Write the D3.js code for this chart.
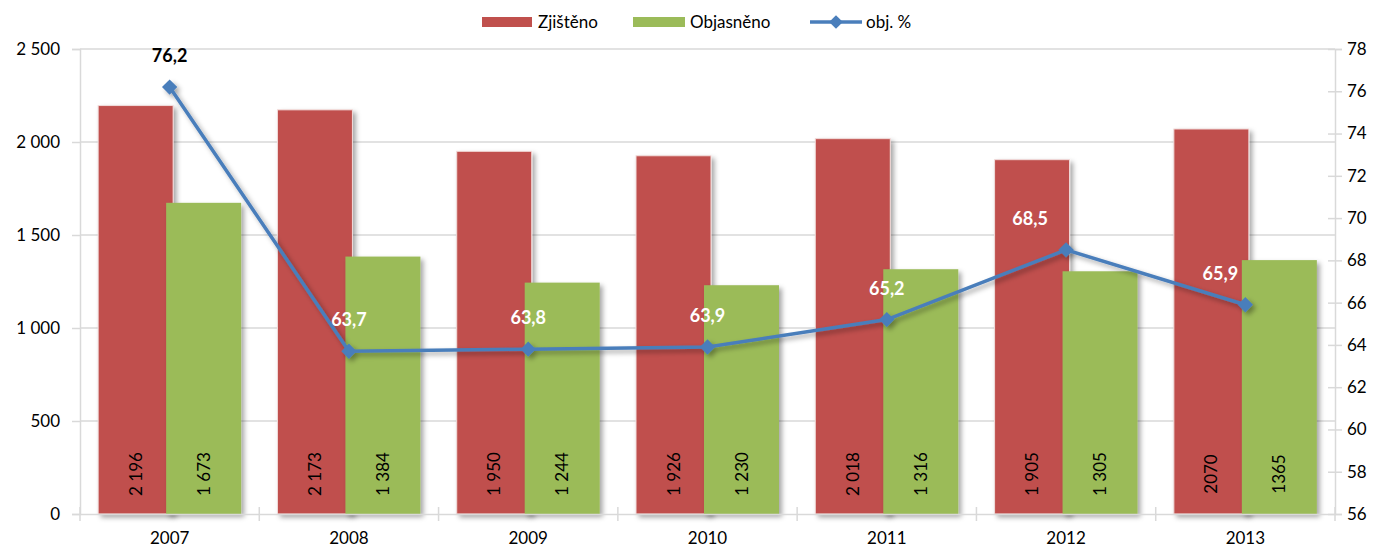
<!DOCTYPE html>
<html>
<head>
<meta charset="utf-8">
<script src="https://cdn.jsdelivr.net/npm/d3@7"></script>
<style>
  body { margin: 0; background: #fff; }
  text { font-family: Lato, "Open Sans", sans-serif; }
</style>
</head>
<body>
<div id="chart"></div>
<script>
var years = ["2007", "2008", "2009", "2010", "2011", "2012", "2013"];
var zjisteno = [2196, 2173, 1950, 1926, 2018, 1905, 2070];
var objasneno = [1673, 1384, 1244, 1230, 1316, 1305, 1365];
var objPct = [76.2, 63.7, 63.8, 63.9, 65.2, 68.5, 65.9];
var zjistenoLabels = ["2 196", "2 173", "1 950", "1 926", "2 018", "1 905", "2070"];
var objasnenoLabels = ["1 673", "1 384", "1 244", "1 230", "1 316", "1 305", "1365"];
var pctLabels = ["76,2", "63,7", "63,8", "63,9", "65,2", "68,5", "65,9"];
var leftTicks = [0, 500, 1000, 1500, 2000, 2500];
var rightTicks = [56, 58, 60, 62, 64, 66, 68, 70, 72, 74, 76, 78];

var svgWidth = 1381;
var svgHeight = 549;

var margin = { top: 49, right: 46, bottom: 35, left: 80 };
var width = svgWidth - margin.left - margin.right;
var height = svgHeight - margin.top - margin.bottom;

var red = "#c0504d";
var green = "#9bbb59";
var blue = "#4a7ebb";
var grid = "#d9d9d9";

// the last two percent labels were dragged left in the original
var labelShift = [0, 0, 0, 0, 0, -36, -25];

var svg = d3.select("#chart")
  .append("svg")
  .attr("width", svgWidth)
  .attr("height", svgHeight);

// drop shadow like the office chart
var defs = svg.append("defs");
var shadow = defs.append("filter")
  .attr("id", "shadow")
  .attr("x", "-20%").attr("y", "-20%")
  .attr("width", "150%").attr("height", "150%");
shadow.append("feDropShadow")
  .attr("dx", 3).attr("dy", 3)
  .attr("stdDeviation", 2.5)
  .attr("flood-color", "#000")
  .attr("flood-opacity", 0.35);

var chartGroup = svg.append("g")
  .attr("transform", `translate(${margin.left}, ${margin.top})`);

var xScale = d3.scaleBand()
  .domain(years)
  .range([0, width]);

var yLeft = d3.scaleLinear()
  .domain([0, 2500])
  .range([height, 0]);

var yRight = d3.scaleLinear()
  .domain([56, 78])
  .range([height, 0]);

var barWidth = 75;
var overlap = 7;

// gridlines
chartGroup.append("g")
  .selectAll("line")
  .data(leftTicks.slice(1))
  .enter()
  .append("line")
  .attr("x1", 0)
  .attr("x2", width)
  .attr("y1", d => yLeft(d))
  .attr("y2", d => yLeft(d))
  .attr("stroke", grid)
  .attr("stroke-width", 1.5);

// left axis
var leftAxis = d3.axisLeft(yLeft)
  .tickValues(leftTicks)
  .tickSize(8)
  .tickPadding(12)
  .tickFormat(d => d3.format(",")(d).replace(/,/g, " "));

var yAxisL = chartGroup.append("g").call(leftAxis);
yAxisL.select(".domain").attr("stroke", grid).attr("stroke-width", 1.5);
yAxisL.selectAll(".tick line").attr("stroke", grid).attr("stroke-width", 1.5).attr("x2", -8);
yAxisL.selectAll(".tick text").style("font-size", "17px").attr("fill", "#000");

// right axis
var rightAxis = d3.axisRight(yRight)
  .tickValues(rightTicks)
  .tickSize(7)
  .tickPadding(5);

var yAxisR = chartGroup.append("g")
  .attr("transform", `translate(${width}, 0)`)
  .call(rightAxis);
yAxisR.select(".domain").attr("stroke", grid).attr("stroke-width", 1.5);
yAxisR.selectAll(".tick line").attr("stroke", grid).attr("stroke-width", 1.5).attr("x1", -7);
yAxisR.selectAll(".tick text").style("font-size", "17px").attr("fill", "#000");

// bars
var barGroups = chartGroup.append("g")
  .selectAll("g")
  .data(years)
  .enter()
  .append("g")
  .attr("transform", d => `translate(${xScale(d) + xScale.bandwidth() / 2}, 0)`);

barGroups.append("rect")
  .attr("x", -barWidth + overlap / 2)
  .attr("y", (d, i) => yLeft(zjisteno[i]))
  .attr("width", barWidth)
  .attr("height", (d, i) => height - yLeft(zjisteno[i]))
  .attr("fill", red)
  .attr("stroke", "#f2dcdb")
  .attr("stroke-width", 1)
  .attr("filter", "url(#shadow)");

barGroups.append("rect")
  .attr("x", -overlap / 2)
  .attr("y", (d, i) => yLeft(objasneno[i]))
  .attr("width", barWidth)
  .attr("height", (d, i) => height - yLeft(objasneno[i]))
  .attr("fill", green)
  .attr("filter", "url(#shadow)");

// bar value labels, rotated
barGroups.append("text")
  .attr("transform", `translate(${-barWidth / 2 + overlap / 2 + 6}, ${height - 40}) rotate(-90)`)
  .attr("text-anchor", "middle")
  .style("font-size", "17px")
  .text((d, i) => zjistenoLabels[i]);

barGroups.append("text")
  .attr("transform", `translate(${barWidth / 2 - overlap / 2 + 6}, ${height - 40}) rotate(-90)`)
  .attr("text-anchor", "middle")
  .style("font-size", "17px")
  .text((d, i) => objasnenoLabels[i]);

// x axis
var bottomAxis = d3.axisBottom(xScale).tickSize(0).tickPadding(18);
var xAxis = chartGroup.append("g")
  .attr("transform", `translate(0, ${height})`)
  .call(bottomAxis);
xAxis.select(".domain").attr("stroke", grid).attr("stroke-width", 1.5);
xAxis.selectAll(".tick text").style("font-size", "17px").attr("fill", "#000");

// tick marks between categories
xAxis.append("g")
  .selectAll("line")
  .data(years.concat(["end"]))
  .enter()
  .append("line")
  .attr("x1", (d, i) => i * xScale.bandwidth())
  .attr("x2", (d, i) => i * xScale.bandwidth())
  .attr("y1", -7)
  .attr("y2", 7)
  .attr("stroke", grid)
  .attr("stroke-width", 1.5);

// line series
var line = d3.line()
  .x((d, i) => xScale(years[i]) + xScale.bandwidth() / 2)
  .y(d => yRight(d));

var lineGroup = chartGroup.append("g").attr("filter", "url(#shadow)");

lineGroup.append("path")
  .datum(objPct)
  .attr("d", line)
  .attr("fill", "none")
  .attr("stroke", blue)
  .attr("stroke-width", 3.5);

lineGroup.selectAll("path.marker")
  .data(objPct)
  .enter()
  .append("path")
  .attr("class", "marker")
  .attr("d", d3.symbol().type(d3.symbolDiamond2).size(150))
  .attr("transform", (d, i) => `translate(${xScale(years[i]) + xScale.bandwidth() / 2}, ${yRight(d)})`)
  .attr("fill", blue);

// line labels
chartGroup.append("g")
  .selectAll("text")
  .data(objPct)
  .enter()
  .append("text")
  .attr("x", (d, i) => xScale(years[i]) + xScale.bandwidth() / 2 + labelShift[i])
  .attr("y", d => yRight(d) - 25)
  .attr("text-anchor", "middle")
  .style("font-size", "18px")
  .style("font-weight", "bold")
  .attr("fill", (d, i) => i === 0 ? "#000" : "#fff")
  .text((d, i) => pctLabels[i]);

// legend
var legend = svg.append("g").attr("transform", "translate(482, 22)");

legend.append("rect")
  .attr("x", 0).attr("y", -5)
  .attr("width", 50).attr("height", 10)
  .attr("fill", red);
legend.append("text")
  .attr("x", 56).attr("y", 6)
  .style("font-size", "17px")
  .text("Zjištěno");

legend.append("rect")
  .attr("x", 151).attr("y", -5)
  .attr("width", 52).attr("height", 10)
  .attr("fill", green);
legend.append("text")
  .attr("x", 208).attr("y", 6)
  .style("font-size", "17px")
  .text("Objasněno");

legend.append("line")
  .attr("x1", 328).attr("x2", 380)
  .attr("y1", 0).attr("y2", 0)
  .attr("stroke", blue)
  .attr("stroke-width", 3.5);
legend.append("path")
  .attr("d", d3.symbol().type(d3.symbolDiamond2).size(120))
  .attr("transform", "translate(354, 0)")
  .attr("fill", blue);
legend.append("text")
  .attr("x", 384).attr("y", 6)
  .style("font-size", "17px")
  .text("obj. %");
</script>
</body>
</html>
